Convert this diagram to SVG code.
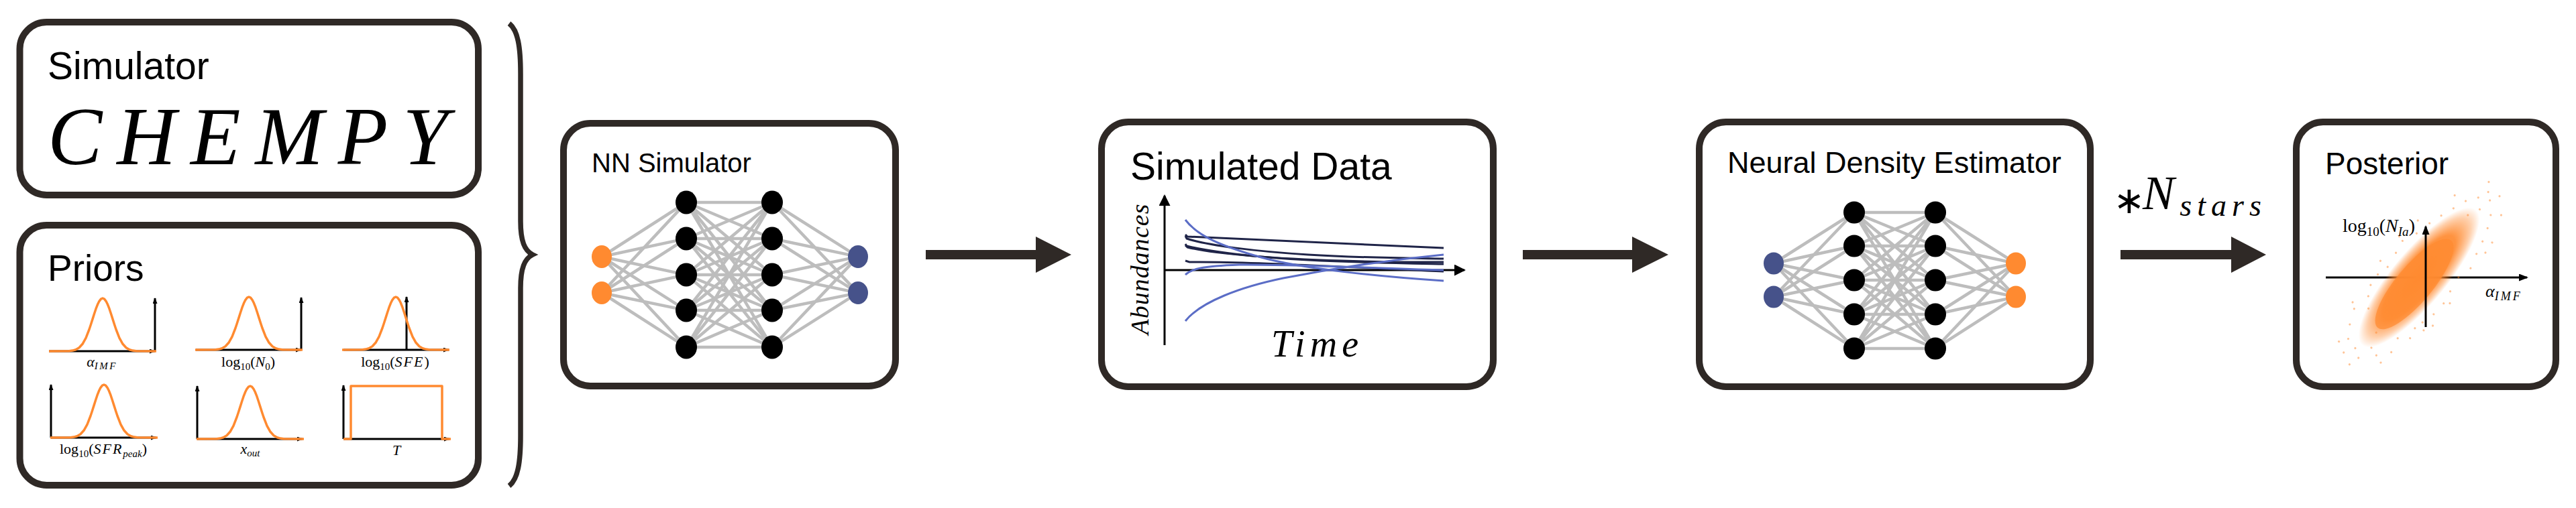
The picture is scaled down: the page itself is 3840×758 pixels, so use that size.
<svg xmlns="http://www.w3.org/2000/svg" xmlns:xlink="http://www.w3.org/1999/xlink" width="3840" height="758" viewBox="0 0 3840 758">
<style>
.box{fill:#fff;stroke:#2f2926;stroke-width:10}
.t{font-family:"Liberation Sans",Arial,sans-serif;fill:#000}
.m{font-family:"Liberation Serif","Times New Roman",serif;fill:#000}
.i{font-style:italic}
.edge{stroke:#bdbdbd;stroke-width:4.5;fill:none}
.hid{fill:#000}
.org{fill:#ff8a30}
.blu{fill:#46528a}
.ax{stroke:#000;stroke-width:3;fill:none}
.gs{stroke:#ff8a30;stroke-width:3.5;fill:none;stroke-linejoin:round}
.arrow{fill:#2f2926}
.cd{stroke:#1f2448;stroke-width:3;fill:none}
.cb{stroke:#5b6dc6;stroke-width:3;fill:none}
.dot{fill:#ff8a30;opacity:0.5}
</style>
<defs>
<marker id="sa" markerUnits="userSpaceOnUse" markerWidth="10" markerHeight="8" refX="8" refY="3.5" orient="auto"><path d="M0 0L9 3.5L0 7z" fill="#000"/></marker>
<marker id="la" markerUnits="userSpaceOnUse" markerWidth="18" markerHeight="18" refX="15" refY="8.5" orient="auto"><path d="M0 0L17 8.5L0 17z" fill="#000"/></marker>
<marker id="pa" markerUnits="userSpaceOnUse" markerWidth="15" markerHeight="12" refX="12" refY="5.5" orient="auto"><path d="M0 0L14 5.5L0 11z" fill="#000"/></marker>
<path id="gauss" d="M-80 0L-50 -0.3L-45 -0.9L-40 -2.3L-35 -5.2L-30 -10.7L-25 -19.7L-20 -32.5L-17.5 -40L-15 -47.9L-12.5 -55.8L-10 -63.3L-7.5 -69.7L-5 -74.7L-2.5 -77.9L0 -79L2.5 -77.9L5 -74.7L7.5 -69.7L10 -63.3L12.5 -55.8L15 -47.9L17.5 -40L20 -32.5L25 -19.7L30 -10.7L35 -5.2L40 -2.3L45 -0.9L50 -0.3L80 0"/>
<radialGradient id="cg">
<stop offset="0" stop-color="#ff8a30" stop-opacity="1"/>
<stop offset="0.6" stop-color="#ff8a30" stop-opacity="0.92"/>
<stop offset="0.85" stop-color="#ff8a30" stop-opacity="0.4"/>
<stop offset="1" stop-color="#ff8a30" stop-opacity="0"/>
</radialGradient>
</defs>
<rect width="3840" height="758" fill="#fff"/>

<g id="simulator">
<rect class="box" x="29.5" y="33" width="683.5" height="258" rx="40"/>
<text class="t" x="71" y="118" font-size="57">Simulator</text>
<text class="m i" x="71" y="245" font-size="122" textLength="597" lengthAdjust="spacing">CHEMPY</text>
</g>

<g id="priors">
<rect class="box" x="29.5" y="336" width="683.5" height="388" rx="40"/>
<text class="t" x="71" y="419" font-size="55">Priors</text>
<g id="prior-alpha">
<path class="ax" d="M73 524H231" marker-end="url(#sa)"/>
<path class="ax" d="M231 524V445" marker-end="url(#sa)"/>
<use href="#gauss" class="gs" transform="translate(153,524)"/>
<text class="m" x="152" y="547" text-anchor="middle"><tspan class="i" font-size="22">α</tspan><tspan class="i" font-size="15" dy="4" letter-spacing="2.5">IMF</tspan></text>
</g>
<g id="prior-n0">
<path class="ax" d="M292 522H449" marker-end="url(#sa)"/>
<path class="ax" d="M449 522V444" marker-end="url(#sa)"/>
<use href="#gauss" class="gs" transform="translate(371,522)"/>
<text class="m" x="370" y="547" text-anchor="middle" font-size="22">log<tspan font-size="15" dy="5">10</tspan><tspan dy="-5">(</tspan><tspan class="i">N</tspan><tspan font-size="15" dy="5">0</tspan><tspan dy="-5">)</tspan></text>
</g>
<g id="prior-sfe">
<path class="ax" d="M512 522H669" marker-end="url(#sa)"/>
<path class="ax" d="M606 522V443" marker-end="url(#sa)"/>
<use href="#gauss" class="gs" transform="translate(590,522)"/>
<text class="m" x="589" y="547" text-anchor="middle" font-size="22">log<tspan font-size="15" dy="5">10</tspan><tspan dy="-5">(</tspan><tspan class="i" letter-spacing="2">SFE</tspan><tspan>)</tspan></text>
</g>
<g id="prior-sfr">
<path class="ax" d="M76 653V574" marker-end="url(#sa)"/>
<path class="ax" d="M76 653H233" marker-end="url(#sa)"/>
<use href="#gauss" class="gs" transform="translate(155,653)"/>
<text class="m" x="154" y="677" text-anchor="middle" font-size="22">log<tspan font-size="15" dy="5">10</tspan><tspan dy="-5">(</tspan><tspan class="i" letter-spacing="2">SFR</tspan><tspan class="i" font-size="15" dy="5">peak</tspan><tspan dy="-5">)</tspan></text>
</g>
<g id="prior-xout">
<path class="ax" d="M294 655V576" marker-end="url(#sa)"/>
<path class="ax" d="M294 655H451" marker-end="url(#sa)"/>
<use href="#gauss" class="gs" transform="translate(373,655)"/>
<text class="m" x="373" y="677" text-anchor="middle"><tspan class="i" font-size="22">x</tspan><tspan class="i" font-size="15" dy="4">out</tspan></text>
</g>
<g id="prior-t">
<path class="ax" d="M512 655V575" marker-end="url(#sa)"/>
<path class="ax" d="M512 655H670" marker-end="url(#sa)"/>
<path class="gs" d="M512 655H523V576H659V655H672"/>
<text class="m i" x="591" y="679" text-anchor="middle" font-size="22">T</text>
</g>
</g>

<g id="brace">
<path d="M759 35C772 45 776 70 776 110L776 330C776 360 782 374 794 380C782 386 776 400 776 430L776 650C776 690 772 715 759 725" fill="none" stroke="#2f2926" stroke-width="7.5"/>
</g>

<g id="nn-simulator">
<rect class="box" x="840" y="184" width="495" height="392" rx="40"/>
<text class="t" x="882" y="257" font-size="40">NN Simulator</text>
<path class="edge" d="M897 383L1023 302M897 383L1023 356M897 383L1023 410M897 383L1023 463M897 383L1023 518M897 437L1023 302M897 437L1023 356M897 437L1023 410M897 437L1023 463M897 437L1023 518M1023 302L1151 302M1023 302L1151 356M1023 302L1151 410M1023 302L1151 463M1023 302L1151 518M1023 356L1151 302M1023 356L1151 356M1023 356L1151 410M1023 356L1151 463M1023 356L1151 518M1023 410L1151 302M1023 410L1151 356M1023 410L1151 410M1023 410L1151 463M1023 410L1151 518M1023 463L1151 302M1023 463L1151 356M1023 463L1151 410M1023 463L1151 463M1023 463L1151 518M1023 518L1151 302M1023 518L1151 356M1023 518L1151 410M1023 518L1151 463M1023 518L1151 518M1151 302L1279 383M1151 356L1279 383M1151 410L1279 383M1151 463L1279 383M1151 518L1279 383M1151 302L1279 437M1151 356L1279 437M1151 410L1279 437M1151 463L1279 437M1151 518L1279 437"/>
<ellipse class="org" cx="897" cy="383" rx="15" ry="17"/>
<ellipse class="org" cx="897" cy="437" rx="15" ry="17"/>
<ellipse class="hid" cx="1023" cy="302" rx="16" ry="17.5"/>
<ellipse class="hid" cx="1023" cy="356" rx="16" ry="17.5"/>
<ellipse class="hid" cx="1023" cy="410" rx="16" ry="17.5"/>
<ellipse class="hid" cx="1023" cy="463" rx="16" ry="17.5"/>
<ellipse class="hid" cx="1023" cy="518" rx="16" ry="17.5"/>
<ellipse class="hid" cx="1151" cy="302" rx="16" ry="17.5"/>
<ellipse class="hid" cx="1151" cy="356" rx="16" ry="17.5"/>
<ellipse class="hid" cx="1151" cy="410" rx="16" ry="17.5"/>
<ellipse class="hid" cx="1151" cy="463" rx="16" ry="17.5"/>
<ellipse class="hid" cx="1151" cy="518" rx="16" ry="17.5"/>
<ellipse class="blu" cx="1279" cy="383" rx="15" ry="17"/>
<ellipse class="blu" cx="1279" cy="437" rx="15" ry="17"/>
</g>

<g id="simulated-data">
<rect class="box" x="1642" y="182" width="584" height="395" rx="40"/>
<text class="t" x="1685" y="268" font-size="57">Simulated Data</text>
<path class="ax" d="M1736 515V292" marker-end="url(#la)"/>
<path class="ax" d="M1736 403H2183" marker-end="url(#la)"/>
<path class="cd" d="M1767 350L1770 353C1850 357 2000 364 2152 370"/>
<path class="cd" d="M1767 352L1769 356C1800 366 1870 375 1950 380S2100 385 2152 386"/>
<path class="cd" stroke-width="4" stroke="#15182f" d="M1767 364L1769 367C1800 375 1870 384 1950 388S2100 393 2152 394"/>
<path class="cd" d="M1767 366L1770 369C1810 379 1900 386 2000 389S2120 391 2152 391"/>
<path class="cd" d="M1767 389L1773 391C1850 390 1950 396 2152 405"/>
<path class="cb" d="M1767 328C1785 352 1820 367 1880 384S2060 413 2152 419"/>
<path class="cb" stroke="#7085d8" d="M1767 410C1775 402 1790 397 1847 395C1920 394 2050 400 2152 403"/>
<path class="cb" d="M1767 479C1790 450 1850 428 1913 415C1990 400 2080 387 2152 380"/>
<text class="m i" transform="translate(1712,402) rotate(-90)" text-anchor="middle" font-size="38" textLength="195" lengthAdjust="spacing">Abundances</text>
<text class="m i" x="1960" y="532" text-anchor="middle" font-size="56" textLength="130" lengthAdjust="spacing">Time</text>
</g>

<g id="nde">
<rect class="box" x="2533" y="182" width="583" height="395" rx="40"/>
<text class="t" x="2575" y="258" font-size="45">Neural Density Estimator</text>
<path class="edge" d="M2644 393L2764 317M2644 393L2764 367M2644 393L2764 418M2644 393L2764 469M2644 393L2764 520M2644 443L2764 317M2644 443L2764 367M2644 443L2764 418M2644 443L2764 469M2644 443L2764 520M2764 317L2885 317M2764 317L2885 367M2764 317L2885 418M2764 317L2885 469M2764 317L2885 520M2764 367L2885 317M2764 367L2885 367M2764 367L2885 418M2764 367L2885 469M2764 367L2885 520M2764 418L2885 317M2764 418L2885 367M2764 418L2885 418M2764 418L2885 469M2764 418L2885 520M2764 469L2885 317M2764 469L2885 367M2764 469L2885 418M2764 469L2885 469M2764 469L2885 520M2764 520L2885 317M2764 520L2885 367M2764 520L2885 418M2764 520L2885 469M2764 520L2885 520M2885 317L3005 393M2885 367L3005 393M2885 418L3005 393M2885 469L3005 393M2885 520L3005 393M2885 317L3005 443M2885 367L3005 443M2885 418L3005 443M2885 469L3005 443M2885 520L3005 443"/>
<ellipse class="blu" cx="2644" cy="393" rx="15" ry="16.5"/>
<ellipse class="blu" cx="2644" cy="443" rx="15" ry="16.5"/>
<ellipse class="hid" cx="2764" cy="317" rx="16" ry="16.5"/>
<ellipse class="hid" cx="2764" cy="367" rx="16" ry="16.5"/>
<ellipse class="hid" cx="2764" cy="418" rx="16" ry="16.5"/>
<ellipse class="hid" cx="2764" cy="469" rx="16" ry="16.5"/>
<ellipse class="hid" cx="2764" cy="520" rx="16" ry="16.5"/>
<ellipse class="hid" cx="2885" cy="317" rx="16" ry="16.5"/>
<ellipse class="hid" cx="2885" cy="367" rx="16" ry="16.5"/>
<ellipse class="hid" cx="2885" cy="418" rx="16" ry="16.5"/>
<ellipse class="hid" cx="2885" cy="469" rx="16" ry="16.5"/>
<ellipse class="hid" cx="2885" cy="520" rx="16" ry="16.5"/>
<ellipse class="org" cx="3005" cy="393" rx="15" ry="16.5"/>
<ellipse class="org" cx="3005" cy="443" rx="15" ry="16.5"/>
</g>

<g id="posterior">
<rect class="box" x="3423" y="182" width="387" height="395" rx="40"/>
<text class="t" x="3466" y="260" font-size="46">Posterior</text>
<path class="ax" d="M3467 414H3767" marker-end="url(#pa)"/>
<g transform="translate(3606,414) rotate(-50)">
<ellipse cx="0" cy="0" rx="132" ry="40" fill="url(#cg)"/>
<ellipse cx="-12" cy="1" rx="85" ry="27" fill="#ff8a30" opacity="0.7"/>
<g class="dot">
<circle cx="-150" cy="8" r="1.6"/><circle cx="-138" cy="-22" r="1.6"/><circle cx="-130" cy="26" r="1.6"/><circle cx="-120" cy="-34" r="1.6"/><circle cx="-112" cy="40" r="1.6"/><circle cx="-104" cy="4" r="1.6"/><circle cx="-98" cy="-44" r="1.6"/><circle cx="-90" cy="34" r="1.6"/><circle cx="-84" cy="-28" r="1.6"/><circle cx="-78" cy="48" r="1.6"/><circle cx="-70" cy="-40" r="1.6"/><circle cx="-62" cy="44" r="1.6"/><circle cx="-55" cy="-48" r="1.6"/><circle cx="-48" cy="47" r="1.6"/><circle cx="-36" cy="-50" r="1.6"/><circle cx="-28" cy="52" r="1.6"/><circle cx="-18" cy="-46" r="1.6"/><circle cx="-6" cy="53" r="1.6"/><circle cx="6" cy="-50" r="1.6"/><circle cx="14" cy="49" r="1.6"/><circle cx="26" cy="-54" r="1.6"/><circle cx="38" cy="45" r="1.6"/><circle cx="48" cy="-45" r="1.6"/><circle cx="60" cy="50" r="1.6"/><circle cx="72" cy="-40" r="1.6"/><circle cx="82" cy="43" r="1.6"/><circle cx="92" cy="-34" r="1.6"/><circle cx="102" cy="38" r="1.6"/><circle cx="112" cy="-27" r="1.6"/><circle cx="122" cy="31" r="1.6"/><circle cx="132" cy="-20" r="1.6"/><circle cx="140" cy="22" r="1.6"/><circle cx="148" cy="-9" r="1.6"/><circle cx="156" cy="7" r="1.6"/><circle cx="-142" cy="-5" r="1.6"/><circle cx="-126" cy="13" r="1.6"/><circle cx="136" cy="4" r="1.6"/><circle cx="118" cy="-4" r="1.6"/><circle cx="-158" cy="-14" r="1.6"/><circle cx="164" cy="-3" r="1.6"/><circle cx="-56" cy="56" r="1.6"/><circle cx="64" cy="-56" r="1.6"/><circle cx="-92" cy="-52" r="1.6"/><circle cx="92" cy="52" r="1.6"/><circle cx="0" cy="60" r="1.6"/><circle cx="-18" cy="-60" r="1.6"/><circle cx="170" cy="14" r="1.6"/><circle cx="-166" cy="4" r="1.6"/><circle cx="28" cy="-62" r="1.6"/><circle cx="-42" cy="62" r="1.6"/><circle cx="150" cy="34" r="1.6"/><circle cx="128" cy="-38" r="1.6"/><circle cx="-134" cy="38" r="1.6"/><circle cx="-150" cy="-30" r="1.6"/><circle cx="176" cy="-12" r="1.6"/><circle cx="110" cy="50" r="1.6"/>
</g>
</g>
<path class="ax" d="M3616 488V338" marker-end="url(#pa)"/>
<text class="m" x="3492" y="346" font-size="28">log<tspan font-size="19" dy="6">10</tspan><tspan dy="-6">(</tspan><tspan class="i">N</tspan><tspan class="i" font-size="19" dy="6">Ia</tspan><tspan dy="-6">)</tspan></text>
<text class="m" x="3705" y="443"><tspan class="i" font-size="26">α</tspan><tspan class="i" font-size="18" dy="5" letter-spacing="3">IMF</tspan></text>
</g>

<g id="connectors">
<path class="arrow" d="M1380 373H1544V353L1597 380L1544 407V387H1380Z"/>
<path class="arrow" d="M2270 373H2433V353L2487 380L2433 407V387H2270Z"/>
<path class="arrow" d="M3161 373H3326V353L3378 380L3326 407V387H3161Z"/>
<text x="3174" y="318" text-anchor="middle" font-family="DejaVu Sans, sans-serif" font-size="56">∗</text>
<text class="m i" x="3194" y="312" font-size="71">N<tspan font-size="46" dx="8" dy="10" letter-spacing="8">stars</tspan></text>
</g>
</svg>
